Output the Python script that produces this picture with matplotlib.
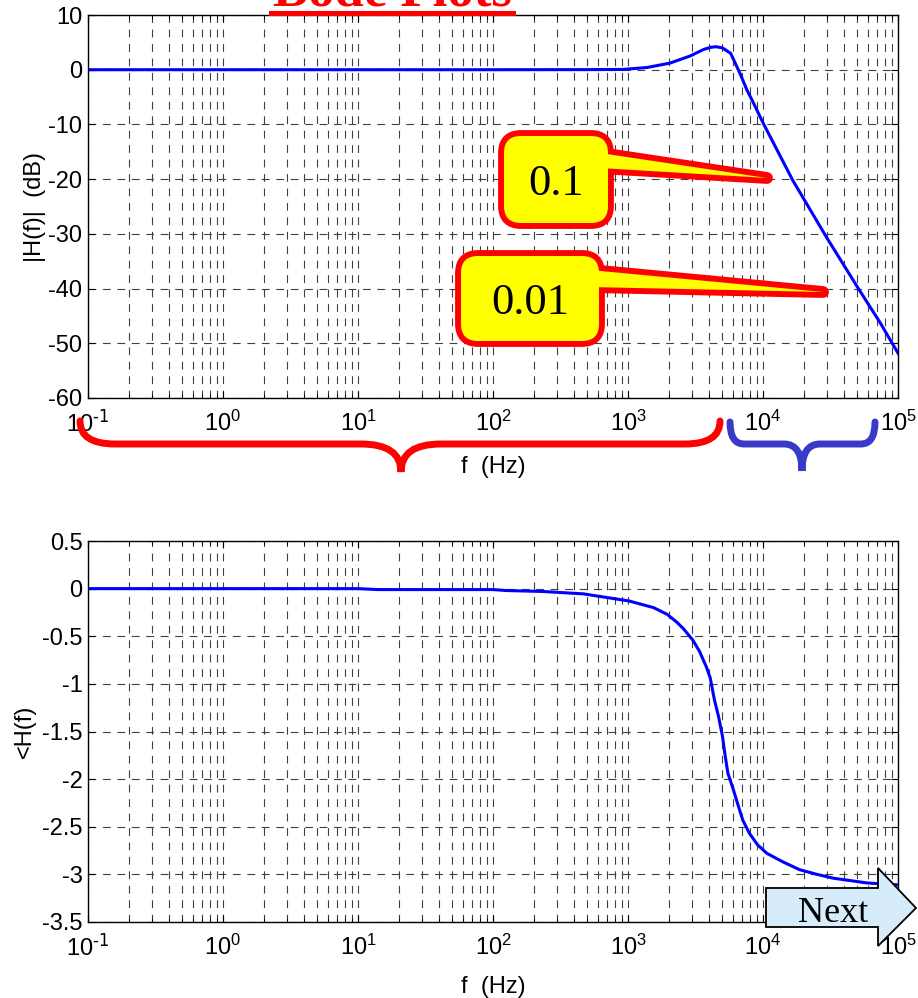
import numpy as np
import matplotlib.pyplot as plt
import matplotlib.transforms as mtransforms
from matplotlib.path import Path
from matplotlib.patches import PathPatch, FancyBboxPatch, Polygon
from matplotlib.lines import Line2D
from matplotlib.ticker import FixedLocator, FixedFormatter, LogLocator

plt.rcParams['font.family'] = ['Liberation Sans Narrow', 'Liberation Sans', 'DejaVu Sans']
plt.rcParams['mathtext.default'] = 'regular'

# magnitude (Hz, dB)
mag_freq = [0.1, 1, 10, 100, 500, 910, 1380, 2040, 2880, 3630, 4100, 4500, 5000,
            5760, 6760, 7600, 8510, 10000, 16600, 29500, 50000, 74000, 100000]
mag_db = [0, 0, 0, 0, 0.02, 0.05, 0.4, 1.2, 2.5, 3.7, 4.1, 4.2, 4.0,
          3.0, -0.7, -3.7, -6.1, -9.7, -20.2, -30.6, -39.7, -46.3, -51.8]

# phase (Hz, rad)
ph_freq = [0.1, 1, 10, 14, 100, 125, 234, 468, 1020, 1550, 1950, 2290, 2570, 3020,
           3390, 3800, 4070, 4370, 4680, 5010, 5250, 5500, 6030, 6460, 7080, 7940,
           9120, 10700, 14100, 18600, 25100, 33100, 58900, 100000]
ph_rad = [0, 0, 0, -0.01, -0.01, -0.02, -0.03, -0.055, -0.13, -0.20, -0.27, -0.35, -0.42, -0.54,
          -0.66, -0.82, -0.94, -1.17, -1.34, -1.55, -1.76, -1.94, -2.11, -2.25, -2.43, -2.57,
          -2.69, -2.78, -2.87, -2.95, -3.00, -3.04, -3.09, -3.11]

x_ticks = [1e-1, 1e0, 1e1, 1e2, 1e3, 1e4, 1e5]
x_labels = [r'$10^{\text{-1}}$', r'$10^{0}$', r'$10^{1}$', r'$10^{2}$', r'$10^{3}$', r'$10^{4}$', r'$10^{5}$']
mag_ticks = [-60, -50, -40, -30, -20, -10, 0, 10]
mag_labels = ['-60', '-50', '-40', '-30', '-20', '-10', '0', '10']
ph_ticks = [-3.5, -3, -2.5, -2, -1.5, -1, -0.5, 0, 0.5]
ph_labels = ['-3.5', '-3', '-2.5', '-2', '-1.5', '-1', '-0.5', '0', '0.5']

W, H = 918, 998
fig = plt.figure(figsize=(W / 100, H / 100), dpi=100)
# pixel coords (origin top-left) -> figure
pix = mtransforms.Affine2D().scale(1, -1).translate(0, H).scale(1 / W, 1 / H) + fig.transFigure

ax1 = fig.add_axes([88 / W, 1 - 398 / H, 810 / W, 383 / H])
ax2 = fig.add_axes([88 / W, 1 - 922 / H, 810 / W, 381 / H])

grid_ls = (0, (7, 6))
for ax, yt, yl in [(ax1, mag_ticks, mag_labels), (ax2, ph_ticks, ph_labels)]:
    ax.set_xscale('log')
    ax.set_xlim(1e-1, 1e5)
    ax.xaxis.set_major_locator(FixedLocator(x_ticks))
    ax.xaxis.set_major_formatter(FixedFormatter(x_labels))
    ax.xaxis.set_minor_locator(LogLocator(base=10, subs=np.arange(2, 10), numticks=20))
    ax.set_ylim(yt[0], yt[-1])
    ax.yaxis.set_major_locator(FixedLocator(yt))
    ax.yaxis.set_major_formatter(FixedFormatter(yl))
    ax.grid(which='major', axis='both', color='0.25', linestyle=grid_ls, linewidth=0.8)
    ax.grid(which='minor', axis='x', color='0.25', linestyle=grid_ls, linewidth=0.8)
    ax.tick_params(which='both', direction='in', top=True, right=True, labelsize=17)
    ax.tick_params(axis='x', which='major', pad=9, length=5)
    ax.tick_params(axis='x', which='minor', length=3)
    ax.tick_params(axis='y', pad=4, length=5)
    for s in ax.spines.values():
        s.set_linewidth(1.0)

ax1.plot(mag_freq, mag_db, color='blue', linewidth=2.2)
ax2.plot(ph_freq, ph_rad, color='blue', linewidth=2.2)

ax1.set_xlabel('f  (Hz)', fontsize=17, labelpad=14)
ax1.set_ylabel('|H(f)|  (dB)', fontsize=17)
ax2.set_xlabel('f  (Hz)', fontsize=17, labelpad=11)
ax2.set_ylabel('<H(f)', fontsize=17)
ax1.yaxis.set_label_coords(-0.052, 0.5)
ax2.yaxis.set_label_coords(-0.064, 0.5)

# title, mostly cut off by the top edge
fig.text(392 / W, 1 - 5 / H, 'Bode Plots', ha='center', va='baseline', fontsize=38,
         fontweight='bold', family='Liberation Serif', color='red')
fig.add_artist(Line2D([271, 513], [12.5, 12.5], transform=pix, color='red', linewidth=3.6))


def brace(x0, x1, xm, ytop, ymid, ytip, r, r2, color):
    verts = [(x0, ytop), (x0, ymid), (x0 + r, ymid), (xm - r2, ymid), (xm, ymid), (xm, ytip),
             (xm, ymid), (xm + r2, ymid), (x1 - r, ymid), (x1, ymid), (x1, ytop)]
    codes = [Path.MOVETO, Path.CURVE3, Path.CURVE3, Path.LINETO, Path.CURVE3, Path.CURVE3,
             Path.CURVE3, Path.CURVE3, Path.LINETO, Path.CURVE3, Path.CURVE3]
    fig.add_artist(PathPatch(Path(verts, codes), transform=pix, facecolor='none',
                             edgecolor=color, linewidth=5, capstyle='round', zorder=5))


brace(80, 720, 401, 421, 444, 472, 35, 40, 'red')
brace(730, 875, 802, 422, 444, 471, 14, 18, '#3a3ac8')


def callout(box, wedge, text, fs):
    x0, y0, x1, y1 = box
    for layer in ('edge', 'fill'):
        shapes = [FancyBboxPatch((x0, y0), x1 - x0, y1 - y0, boxstyle='round,pad=0,rounding_size=17'),
                  Polygon(wedge, closed=True)]
        for sh in shapes:
            if layer == 'edge':
                sh.set(transform=pix, facecolor='red', edgecolor='red', linewidth=8.5,
                       joinstyle='round', zorder=6)
            else:
                sh.set(transform=pix, facecolor='yellow', edgecolor='none', zorder=7)
            fig.add_artist(sh)
    fig.text((x0 + x1) / 2 / W, 1 - (y0 + y1) / 2 / H, text, ha='center', va='center_baseline',
             fontsize=fs, family='Liberation Serif', color='black', zorder=8)


callout((504, 136, 608, 223), [(600, 153), (767, 178), (600, 168)], '0.1', 32)
callout((461, 256, 599, 341), [(590, 270), (823, 292), (590, 287)], '0.01', 32)

# "Next" button
fig.add_artist(Polygon([(766, 888), (878, 888), (878, 868), (916, 908), (878, 946), (878, 927), (766, 927)],
                       closed=True, transform=pix, facecolor='#d6ecfa', edgecolor='black',
                       linewidth=1.3, zorder=10))
fig.text(833 / W, 1 - 909 / H, 'Next', ha='center', va='center_baseline', fontsize=26,
         family='Liberation Serif', color='black', zorder=11)

fig.savefig('out.png', dpi=100)
